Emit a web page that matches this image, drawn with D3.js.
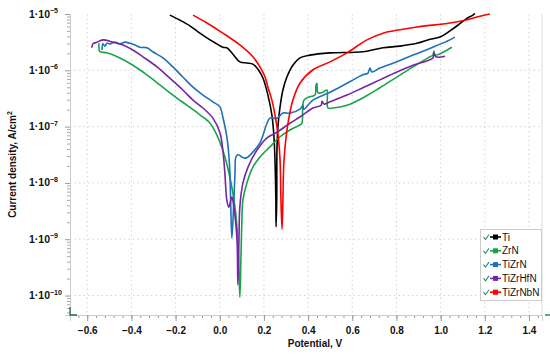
<!DOCTYPE html>
<html>
<head>
<meta charset="utf-8">
<script src="https://cdn.jsdelivr.net/npm/d3@7"></script>
<style>
body { margin: 0; background: #fff; }
text { font-family: "Liberation Sans", Arial, sans-serif; }
</style>
</head>
<body>
<div id="chart"></div>
<script>
var width = 550,
    height = 363;

// legend order
var names = ["Ti", "ZrN", "TiZrN", "TiZrHfN", "TiZrNbN"];
var colors = ["#000000", "#18a34a", "#1f72b6", "#7526a3", "#ff0000"];

// [potential V, log10 of current density A/cm2]
var ti = [[-0.226,-5.02],[-0.180,-5.11],[-0.135,-5.21],[-0.090,-5.34],[-0.044,-5.46],[-0.013,-5.53],
  [0.014,-5.59],[0.032,-5.60],[0.059,-5.71],[0.091,-5.85],[0.123,-5.87],[0.150,-5.89],[0.173,-5.98],
  [0.196,-6.14],[0.218,-6.44],[0.236,-6.79],[0.245,-7.15],[0.250,-7.59],[0.254,-8.30],[0.255,-8.78],
  [0.258,-8.30],[0.259,-7.42],[0.264,-6.97],[0.273,-6.65],[0.286,-6.35],[0.304,-6.12],[0.331,-5.91],
  [0.363,-5.78],[0.408,-5.73],[0.499,-5.69],[0.648,-5.67],[0.739,-5.60],[0.816,-5.57],[0.893,-5.52],
  [0.952,-5.45],[0.997,-5.41],[1.042,-5.30],[1.078,-5.20],[1.114,-5.09],[1.146,-5.02],[1.155,-4.99]];

var zrn = [[-0.547,-5.52],[-0.546,-5.64],[-0.542,-5.67],[-0.511,-5.69],[-0.452,-5.78],[-0.393,-5.91],
  [-0.330,-6.08],[-0.271,-6.26],[-0.212,-6.44],[-0.149,-6.62],[-0.090,-6.79],[-0.044,-6.94],[-0.013,-7.15],
  [0.014,-7.42],[0.046,-7.90],[0.069,-8.43],[0.082,-9.01],[0.091,-10.03],[0.096,-9.32],[0.100,-8.71],
  [0.105,-8.30],[0.123,-8.00],[0.150,-7.72],[0.182,-7.54],[0.227,-7.36],[0.273,-7.18],[0.318,-7.06],
  [0.363,-6.97],[0.372,-6.94],[0.381,-6.53],[0.408,-6.47],[0.431,-6.44],[0.436,-6.26],[0.440,-6.23],
  [0.445,-6.40],[0.467,-6.39],[0.485,-6.35],[0.490,-6.67],[0.512,-6.67],[0.576,-6.62],[0.648,-6.49],
  [0.725,-6.31],[0.802,-6.12],[0.875,-5.94],[0.952,-5.76],[0.965,-5.73],[0.970,-5.66],[0.974,-5.73],
  [1.051,-5.59]];

var tizrn = [[-0.533,-5.64],[-0.529,-5.53],[-0.520,-5.57],[-0.511,-5.52],[-0.497,-5.53],[-0.475,-5.50],
  [-0.452,-5.53],[-0.429,-5.50],[-0.407,-5.52],[-0.384,-5.55],[-0.361,-5.59],[-0.330,-5.60],[-0.303,-5.67],
  [-0.257,-5.78],[-0.212,-5.94],[-0.167,-6.12],[-0.121,-6.30],[-0.076,-6.44],[-0.031,-6.56],[0.001,-6.65],
  [0.014,-6.83],[0.032,-7.18],[0.041,-7.50],[0.046,-7.82],[0.050,-8.43],[0.055,-8.98],[0.064,-8.30],
  [0.069,-7.82],[0.073,-7.54],[0.082,-7.50],[0.100,-7.54],[0.114,-7.56],[0.128,-7.54],[0.150,-7.45],
  [0.182,-7.29],[0.214,-6.94],[0.227,-6.85],[0.259,-6.85],[0.286,-6.76],[0.318,-6.76],[0.363,-6.69],
  [0.377,-6.62],[0.380,-6.69],[0.422,-6.53],[0.499,-6.39],[0.576,-6.23],[0.648,-6.08],[0.671,-6.05],
  [0.680,-5.96],[0.689,-6.03],[0.725,-5.96],[0.802,-5.85],[0.875,-5.73],[0.965,-5.59],[1.042,-5.46],
  [1.065,-5.41]];

var tizrhfn = [[-0.579,-5.60],[-0.574,-5.53],[-0.556,-5.50],[-0.529,-5.46],[-0.484,-5.50],[-0.438,-5.55],
  [-0.393,-5.64],[-0.348,-5.76],[-0.284,-5.94],[-0.226,-6.14],[-0.167,-6.35],[-0.121,-6.53],[-0.076,-6.67],
  [-0.031,-6.85],[0.001,-7.11],[0.014,-7.42],[0.023,-7.82],[0.032,-8.30],[0.041,-8.43],[0.055,-8.25],
  [0.064,-8.43],[0.078,-9.01],[0.082,-9.81],[0.087,-9.01],[0.091,-8.43],[0.105,-8.00],[0.128,-7.72],
  [0.168,-7.42],[0.214,-7.20],[0.259,-7.10],[0.318,-6.94],[0.363,-6.83],[0.422,-6.67],[0.459,-6.62],
  [0.463,-6.55],[0.472,-6.60],[0.499,-6.56],[0.576,-6.44],[0.648,-6.31],[0.725,-6.17],[0.802,-6.03],
  [0.875,-5.91],[0.965,-5.78],[0.970,-5.69],[0.979,-5.76],[1.020,-5.75]];

var tizrnbn = [[-0.121,-5.02],[-0.058,-5.16],[0.014,-5.34],[0.091,-5.55],[0.150,-5.76],[0.182,-5.94],
  [0.205,-6.12],[0.218,-6.30],[0.236,-6.53],[0.250,-6.79],[0.264,-7.15],[0.273,-7.59],[0.277,-8.30],
  [0.282,-8.82],[0.286,-8.30],[0.291,-7.59],[0.309,-6.94],[0.331,-6.53],[0.363,-6.23],[0.422,-5.99],
  [0.499,-5.85],[0.576,-5.69],[0.666,-5.46],[0.739,-5.34],[0.816,-5.28],[0.893,-5.23],[1.042,-5.16],
  [1.110,-5.11],[1.169,-5.05],[1.223,-5.00]];

var data = [ti, zrn, tizrn, tizrhfn, tizrnbn];

var xTicks = [-0.6, -0.4, -0.2, 0.0, 0.2, 0.4, 0.6, 0.8, 1.0, 1.2, 1.4];
var yExps = [-5, -6, -7, -8, -9, -10];

var plot = {left: 70, right: 542, top: 14, bottom: 315};

var x = d3.scaleLinear()
        .domain([-0.678, 1.459])
        .range([plot.left, plot.right]);
var y = d3.scaleLog()
        .domain([Math.pow(10, -10.346), 1e-5])
        .range([plot.bottom, plot.top]);

var svg = d3.select("#chart").append("svg")
        .attr("width", width)
        .attr("height", height);

// grid
var grid = svg.append("g").attr("id", "grid");
grid.selectAll(".vg")
        .data(xTicks)
        .enter().append("line")
        .attr("x1", function (d) { return x(d); })
        .attr("x2", function (d) { return x(d); })
        .attr("y1", plot.top)
        .attr("y2", plot.bottom)
        .attr("stroke", "#d4d4d4")
        .attr("stroke-dasharray", "1.5,3");
grid.selectAll(".hg")
        .data(yExps.slice(1))
        .enter().append("line")
        .attr("x1", plot.left)
        .attr("x2", plot.right)
        .attr("y1", function (d) { return y(Math.pow(10, d)); })
        .attr("y2", function (d) { return y(Math.pow(10, d)); })
        .attr("stroke", "#d4d4d4")
        .attr("stroke-dasharray", "1.5,3");

// right border
svg.append("line")
        .attr("x1", plot.right).attr("x2", plot.right)
        .attr("y1", plot.top).attr("y2", plot.bottom)
        .attr("stroke", "#dcdcdc");

// x axis
var minorX = d3.range(-0.64, 1.45, 0.04);
var xAxisMinor = d3.axisBottom(x).tickValues(minorX).tickSize(3).tickFormat("");
var xAxis = d3.axisBottom(x).tickValues(xTicks).tickSize(6).tickPadding(6)
        .tickFormat(d3.format(".1f"));
svg.append("g")
        .attr("transform", "translate(0," + plot.bottom + ")")
        .call(xAxisMinor)
        .call(function (g) { g.select(".domain").remove(); g.selectAll("line").attr("stroke", "#999"); });
var gx = svg.append("g")
        .attr("transform", "translate(0," + plot.bottom + ")")
        .call(xAxis);
gx.select(".domain").attr("stroke", "#ccc");
gx.selectAll("line").attr("stroke", "#999");
gx.selectAll("text")
        .attr("font-size", 10)
        .attr("font-weight", "bold")
        .attr("fill", "#111");

// y axis
var minorY = [];
yExps.forEach(function (e) {
    for (var k = 2; k <= 9; k++) {
        var v = k * Math.pow(10, e - 1);
        if (v >= y.domain()[0]) minorY.push(v);
    }
});
var yAxisMinor = d3.axisLeft(y).tickValues(minorY).tickSize(3).tickFormat("");
svg.append("g")
        .attr("transform", "translate(" + plot.left + ",0)")
        .call(yAxisMinor)
        .call(function (g) { g.select(".domain").remove(); g.selectAll("line").attr("stroke", "#aaa"); });
var gy = svg.append("g")
        .attr("transform", "translate(" + plot.left + ",0)")
        .call(d3.axisLeft(y).tickValues(yExps.map(function (e) { return Math.pow(10, e); }))
              .tickSize(5).tickFormat(""));
gy.select(".domain").attr("stroke", "#ccc");
gy.selectAll("line").attr("stroke", "#999");

var ylab = svg.append("g").selectAll("text")
        .data(yExps)
        .enter().append("text")
        .attr("x", 29)
        .attr("y", function (d) { return y(Math.pow(10, d)) + 3.5; })
        .attr("font-size", 10.5)
        .attr("font-weight", "bold")
        .attr("fill", "#111");
ylab.append("tspan").text("1\u00b710");
ylab.append("tspan")
        .attr("dy", -4.5)
        .attr("font-size", 7)
        .text(function (d) { return "\u2212" + (-d); });

// axis titles
svg.append("text")
        .attr("x", 315)
        .attr("y", 347)
        .attr("text-anchor", "middle")
        .attr("font-size", 10)
        .attr("font-weight", "bold")
        .attr("fill", "#111")
        .text("Potential, V");
var yt = svg.append("text")
        .attr("transform", "translate(16," + ((plot.top + plot.bottom) / 2) + ") rotate(-90)")
        .attr("text-anchor", "middle")
        .attr("font-size", 10)
        .attr("font-weight", "bold")
        .attr("fill", "#111");
yt.append("tspan").text("Current density, A/cm");
yt.append("tspan").attr("dy", -4).attr("font-size", 7).text("2");

// curves
svg.append("clipPath").attr("id", "clip")
        .append("rect")
        .attr("x", plot.left).attr("y", plot.top - 2)
        .attr("width", plot.right - plot.left).attr("height", plot.bottom - plot.top + 2);

var line = d3.line()
        .curve(d3.curveCatmullRom.alpha(0.5))
        .x(function (d) { return x(d[0]); })
        .y(function (d) { return y(Math.pow(10, d[1])); });

svg.append("g").attr("clip-path", "url(#clip)")
        .selectAll("path")
        .data(data)
        .enter().append("path")
        .attr("d", line)
        .attr("fill", "none")
        .attr("stroke", function (d, i) { return colors[i]; })
        .attr("stroke-width", 1.6)
        .attr("stroke-linejoin", "round");

// small teal marks at the corners
svg.append("path")
        .attr("d", "M70,307V315H77")
        .attr("fill", "none")
        .attr("stroke", "#1d6b5c")
        .attr("stroke-width", 1.3);
svg.append("path")
        .attr("d", "M545,315H550")
        .attr("fill", "none")
        .attr("stroke", "#1d6b5c")
        .attr("stroke-width", 1.3);

// legend
var legend = svg.append("g").attr("id", "legend");
legend.append("rect")
        .attr("x", 480.5).attr("y", 229.5)
        .attr("width", 61).attr("height", 71)
        .attr("fill", "#fff")
        .attr("stroke", "#ccc");
var items = legend.selectAll(".item")
        .data(names)
        .enter().append("g")
        .attr("transform", function (d, i) { return "translate(482," + (237 + i * 13.8) + ")"; });
items.append("path")
        .attr("d", "M1.5,0L3.5,2.5L7,-2.5")
        .attr("fill", "none")
        .attr("stroke", "#2a8a7a")
        .attr("stroke-width", 1.1);
items.append("line")
        .attr("x1", 8).attr("x2", 19)
        .attr("y1", 0).attr("y2", 0)
        .attr("stroke", function (d, i) { return colors[i]; })
        .attr("stroke-width", 1.6);
items.append("rect")
        .attr("x", 11).attr("y", -2.5)
        .attr("width", 5).attr("height", 5)
        .attr("fill", function (d, i) { return colors[i]; });
items.append("text")
        .attr("x", 20)
        .attr("y", 3.5)
        .attr("font-size", 10)
        .attr("fill", "#111")
        .text(function (d) { return d; });
</script>
</body>
</html>
